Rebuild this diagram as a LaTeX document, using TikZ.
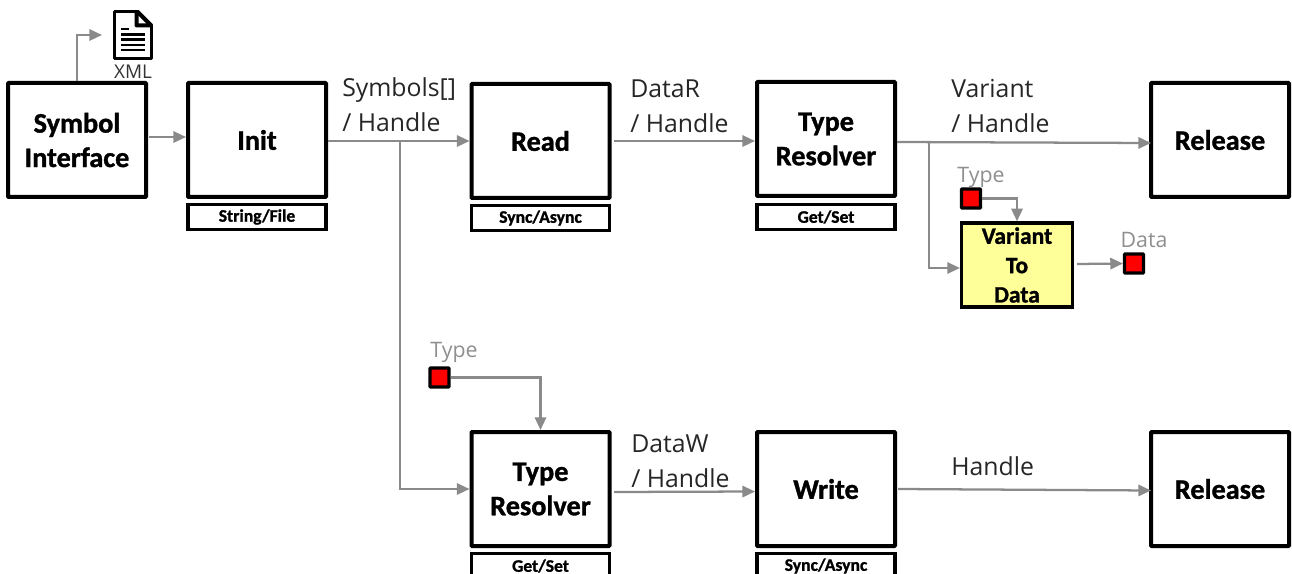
\documentclass[tikz,border=0pt]{standalone}
\usepackage{fontspec}
\setmainfont{Open Sans}
\newfontfamily\boxfont{Carlito}[BoldFont={Carlito Bold},BoldFeatures={FakeBold=1.2}]
\usetikzlibrary{arrows.meta}
\definecolor{conn}{HTML}{8A8A8A}
\definecolor{note}{HTML}{8F8F8F}
\definecolor{noteyellow}{HTML}{FFFF99}
\tikzset{
  x=0.75pt,y=-0.75pt,
  block/.style={draw=black,line width=3pt,fill=white,minimum width=103.5pt,minimum height=85.5pt,inner sep=0pt,align=center,font=\boxfont\bfseries\fontsize{21.2}{25.8}\selectfont,rounded corners=0.5pt},
  tag/.style={draw=black,line width=2.6pt,fill=white,minimum width=103.5pt,minimum height=18.5pt,inner sep=0pt,font=\boxfont\bfseries\fontsize{13.2}{14}\selectfont},
  vtd/.style={draw=black,line width=2.6pt,fill=noteyellow,minimum width=83pt,minimum height=63pt,inner sep=0pt,align=center,font=\boxfont\bfseries\fontsize{17.6}{22}\selectfont},
  port/.style={draw=black,line width=2.4pt,fill=red,minimum size=14.2pt,inner sep=0pt,rounded corners=0.5pt},
  conn/.style={draw=conn,line width=1.7pt,-{Triangle[length=9.5pt,width=8.5pt]}},
  lbl/.style={inner sep=0pt,anchor=west,font=\fontsize{18.6}{20}\selectfont,text=black!85},
  gray label/.style={inner sep=0pt,font=\fontsize{16}{18}\selectfont,text=note},
}
\begin{document}
\begin{tikzpicture}
\clip (0,0) rectangle (1292,574);
% boxes
\node[block] (sym) at (77,140) {Symbol\\Interface};
\node[block] (init) at (257,140) {Init};
\node[tag] (inittag) at (257,217) {String/File};
\node[block] (read) at (540.5,141) {Read};
\node[tag] (readtag) at (540.5,218) {Sync/Async};
\node[block] (tr1) at (826,139) {Type\\Resolver};
\node[tag] (tr1tag) at (826,217) {Get/Set};
\node[block] (rel1) at (1220,140) {Release};
\node[vtd] (vtd) at (1017,265) {Variant\\To\\Data};
\node[port] (ptype1) at (971,198.5) {};
\node[port] (pdata) at (1134,263.5) {};
\node[port] (ptype2) at (439.5,377.5) {};
\node[block] (tr2) at (540.5,489) {Type\\Resolver};
\node[tag] (tr2tag) at (540.5,566) {Get/Set};
\node[block] (write) at (826,489) {Write};
\node[tag] (writetag) at (826,566) {Sync/Async};
\node[block] (rel2) at (1220,489) {Release};
% document icon
\coordinate (xmlin) at (102,35);
\begin{scope}[line width=2.2pt,draw=black,line join=round]
\draw (114.5,11.5) -- (138,11.5) -- (151.5,25) -- (151.5,58.5) -- (114.5,58.5) -- cycle;
\draw[fill=black] (136,12) -- (136,26) -- (151,26) -- cycle;
\fill[white] (138.5,16) -- (138.5,23.5) -- (146,23.5) -- cycle;
\foreach \yy/\xs in {29/129,34.5/145,39.5/145,45/145,50/145}{\draw[line width=1.6pt] (121,\yy) -- (\xs,\yy);}
\end{scope}
\node[inner sep=0pt,font=\fontsize{14.2}{16}\selectfont,text=black!80] (xml) at (133,72) {XML};
% connectors
\draw[conn] (sym.north) |- (xmlin);
\draw[conn] (149,137) coordinate (a1) -- (init.west |- a1);
\draw[conn] (init.east |- 0,141) coordinate (a2) -- (read.west |- a2);
\coordinate (j1) at (400,141);
\draw[conn] (j1) |- (tr2.west);
\draw[conn] (614,141) coordinate (a3) -- (tr1.west |- a3);
\draw[conn] (897,142) coordinate (a4) -- (1151,143) coordinate (a5);
\coordinate (j2) at (929,142);
\draw[conn] (j2) |- (vtd.west |- 0,268);
\draw[conn] (ptype1.east) -| (vtd.north);
\draw[conn] (1077,264) coordinate (a6) -- (pdata.west);
\draw[conn] (ptype2.east) -| (tr2.north);
\draw[conn] (614,492) coordinate (a7) -- (755,491.5) coordinate (a8);
\draw[conn] (898,489) coordinate (a9) -- (1151,490.5) coordinate (a10);
% labels
\node[lbl] (l1a) at (342,90) {Symbols[]};
\node[lbl] (l1b) at (342,122) {/ Handle};
\node[lbl] (l2a) at (630,89) {DataR};
\node[lbl] (l2b) at (630,123) {/ Handle};
\node[lbl] (l3a) at (951,89) {Variant};
\node[lbl] (l3b) at (951,123) {/ Handle};
\node[lbl] (l4a) at (631,444) {DataW};
\node[lbl] (l4b) at (631,478) {/ Handle};
\node[lbl] (l5) at (951,466) {Handle};
\node[gray label] (g1) at (981,177) {Type};
\node[gray label] (g2) at (1144,240) {Data};
\node[gray label] (g3) at (454,352) {Type};
\end{tikzpicture}
\end{document}
